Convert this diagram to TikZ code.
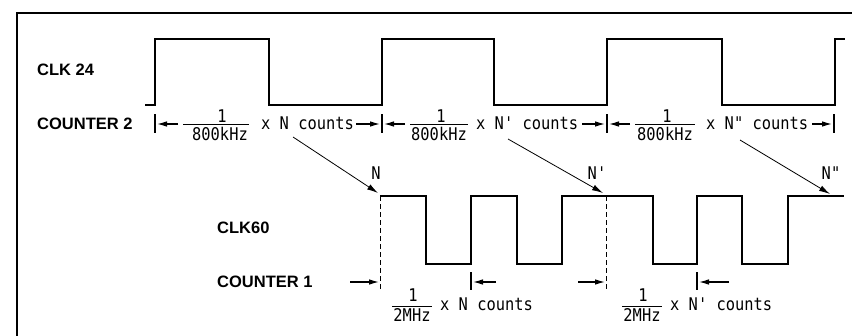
\documentclass[tikz,border=0pt]{standalone}
\usepackage{fontspec}
\setmonofont{DejaVu Sans Mono}[FakeStretch=0.88]
\newfontfamily\lblfont{Liberation Sans}
\usetikzlibrary{arrows.meta}
\begin{document}
\begin{tikzpicture}[x=1pt,y=-1pt,
  wave/.style={line width=1.8pt, line join=miter},
  frameline/.style={line width=2.4pt},
  dimline/.style={line width=1.1pt, -{Latex[length=10pt,width=5.5pt]}},
  tickline/.style={line width=1.1pt},
  ptr/.style={line width=0.8pt, -{Latex[length=11pt,width=6pt]}},
  dashline/.style={line width=0.8pt, dash pattern=on 5pt off 3pt},
  barline/.style={line width=1pt},
  lbl/.style={font=\lblfont\bfseries\fontsize{16.5}{18}\selectfont, anchor=west, inner sep=0pt},
  mono/.style={font=\ttfamily\fontsize{17.5}{19}\selectfont, inner sep=0pt},
]
\useasboundingbox (0,0) rectangle (852,335);
% frame
\draw[frameline] (17,336) -- (17,13) -- (853,13);
% labels
\node[lbl] (clk24) at (37,70) {CLK 24};
\node[lbl] (cnt2) at (37,124) {COUNTER 2};
\node[lbl] (clk60) at (217,228) {CLK60};
\node[lbl] (cnt1) at (217,282) {COUNTER 1};
% CLK 24 waveform
\draw[wave] (145,105) -- (155,105) -- (155,39) -- (269,39) -- (269,105) -- (382,105) -- (382,39) -- (494,39) -- (494,105) -- (607,105) -- (607,39) -- (722,39) -- (722,105) -- (835,105) -- (835,39) -- (845,39);
% CLK60 waveform
\draw[wave] (380,196) -- (426,196) -- (426,264) -- (471,264) -- (471,196) -- (517,196) -- (517,264) -- (562,264) -- (562,196) -- (653,196) -- (653,264) -- (697,264) -- (697,196) -- (742,196) -- (742,264) -- (788,264) -- (788,196) -- (844,196);
% dashed markers
\coordinate (d1t) at (380,196); \coordinate (d1b) at (380,291);
\coordinate (d2t) at (606,196); \coordinate (d2b) at (606,291);
\draw[dashline] (d1t) -- (d1b);
\draw[dashline] (d2t) -- (d2b);
% COUNTER 2 ticks
\coordinate (k1t) at (155,114); \coordinate (k1b) at (155,133);
\coordinate (k2t) at (382,114); \coordinate (k2b) at (382,133);
\coordinate (k3t) at (607,114); \coordinate (k3b) at (607,133);
\coordinate (k4t) at (834,114); \coordinate (k4b) at (834,133);
\draw[tickline] (k1t) -- (k1b);
\draw[tickline] (k2t) -- (k2b);
\draw[tickline] (k3t) -- (k3b);
\draw[tickline] (k4t) -- (k4b);
% segment 1
\node[mono] (n1) at (222,116) {1};
\node[mono] (d1) at (220,134) {800kHz};
\coordinate (b1l) at (183,124); \coordinate (b1r) at (249,124);
\draw[barline] (b1l) -- (b1r);
\node[mono, anchor=west] (c1) at (261,123) {x N counts};
\coordinate (a1s) at (178,124); \coordinate (a1e) at (157,124);
\draw[dimline] (a1s) -- (a1e);
\coordinate (a2s) at (356,124); \coordinate (a2e) at (380,124);
\draw[dimline] (a2s) -- (a2e);
% segment 2
\node[mono] (n2) at (441,116) {1};
\node[mono] (d2) at (439,134) {800kHz};
\coordinate (b2l) at (410,124); \coordinate (b2r) at (468,124);
\draw[barline] (b2l) -- (b2r);
\node[mono, anchor=west] (c2) at (476,123) {x N' counts};
\coordinate (a3s) at (405,124); \coordinate (a3e) at (384,124);
\draw[dimline] (a3s) -- (a3e);
\coordinate (a4s) at (582,124); \coordinate (a4e) at (605,124);
\draw[dimline] (a4s) -- (a4e);
% segment 3
\node[mono] (n3) at (667,116) {1};
\node[mono] (d3) at (665,134) {800kHz};
\coordinate (b3l) at (635,124); \coordinate (b3r) at (695,124);
\draw[barline] (b3l) -- (b3r);
\node[mono, anchor=west] (c3) at (706,123) {x N" counts};
\coordinate (a5s) at (630,124); \coordinate (a5e) at (609,124);
\draw[dimline] (a5s) -- (a5e);
\coordinate (a6s) at (812,124); \coordinate (a6e) at (832,124);
\draw[dimline] (a6s) -- (a6e);
% N labels and pointers
\node[mono] (lN) at (376,173) {N};
\node[mono] (lN1) at (597,173) {N'};
\node[mono] (lN2) at (831,173) {N"};
\coordinate (p1s) at (293,137); \coordinate (p1e) at (378,193);
\coordinate (p2s) at (508,139); \coordinate (p2e) at (603,193);
\coordinate (p3s) at (740,140); \coordinate (p3e) at (830,194);
\draw[ptr] (p1s) -- (p1e);
\draw[ptr] (p2s) -- (p2e);
\draw[ptr] (p3s) -- (p3e);
% COUNTER 1 row
\coordinate (m1t) at (471,272); \coordinate (m1b) at (471,290);
\coordinate (m2t) at (697,272); \coordinate (m2b) at (697,290);
\draw[tickline] (m1t) -- (m1b);
\draw[tickline] (m2t) -- (m2b);
\coordinate (e1s) at (350,282); \coordinate (e1e) at (379,282);
\draw[dimline] (e1s) -- (e1e);
\coordinate (e2s) at (496,282); \coordinate (e2e) at (473,282);
\draw[dimline] (e2s) -- (e2e);
\coordinate (e3s) at (578,282); \coordinate (e3e) at (605,282);
\draw[dimline] (e3s) -- (e3e);
\coordinate (e4s) at (729,282); \coordinate (e4e) at (699,282);
\draw[dimline] (e4s) -- (e4e);
\node[mono] (fn1) at (413,295) {1};
\node[mono] (fd1) at (412,315) {2MHz};
\coordinate (fb1l) at (392,306); \coordinate (fb1r) at (432,306);
\draw[barline] (fb1l) -- (fb1r);
\node[mono, anchor=west] (fc1) at (440,304) {x N counts};
\node[mono] (fn2) at (643,295) {1};
\node[mono] (fd2) at (642,315) {2MHz};
\coordinate (fb2l) at (622,306); \coordinate (fb2r) at (662,306);
\draw[barline] (fb2l) -- (fb2r);
\node[mono, anchor=west] (fc2) at (670,304) {x N' counts};
\end{tikzpicture}
\end{document}
